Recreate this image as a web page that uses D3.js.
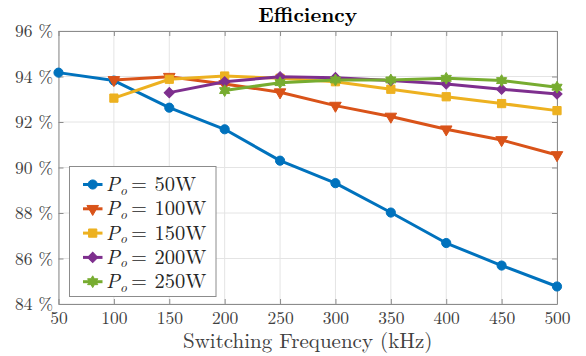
<!DOCTYPE html>
<html>
<head>
<meta charset="utf-8">
<script src="https://cdn.jsdelivr.net/npm/d3@7"></script>
</head>
<body style="margin:0;background:#fff">
<div id="chart"></div>
<script>
// switching frequency (kHz)
var freqs = [50, 100, 150, 200, 250, 300, 350, 400, 450, 500];

// efficiency (%) per output power, null = not measured
var p50  = [94.17, 93.82, 92.63, 91.68, 90.30, 89.31, 88.02, 86.68, 85.69, 84.77];
var p100 = [null, 93.85, 93.99, 93.67, 93.31, 92.72, 92.24, 91.68, 91.21, 90.55];
var p150 = [null, 93.05, 93.88, 94.02, 93.92, 93.77, 93.44, 93.11, 92.81, 92.50];
var p200 = [null, null, 93.29, 93.77, 93.99, 93.95, 93.82, 93.67, 93.44, 93.23];
var p250 = [null, null, null, 93.38, 93.73, 93.85, 93.85, 93.92, 93.82, 93.53];

var seriesNames = ["50W", "100W", "150W", "200W", "250W"];
var yTicks = [84, 86, 88, 90, 92, 94, 96];
var xTicks = [50, 100, 150, 200, 250, 300, 350, 400, 450, 500];

var W = 586, H = 356;
var margin = {top: 31, right: 29, bottom: 52, left: 58.5};
var width = W - margin.left - margin.right,
    height = H - margin.top - margin.bottom;

var FONT = '"Latin Modern Roman", "Liberation Serif", serif';
var colors = ["#0072BD", "#D95319", "#EDB120", "#7E2F8E", "#77AC30"];

// six pointed star like matlab's hexagram
var hexagram = {
  draw: function(ctx, size) {
    var r = Math.sqrt(size) * 0.62, ri = r / Math.sqrt(3);
    for (var i = 0; i < 12; i++) {
      var a = -Math.PI / 2 + i * Math.PI / 6;
      var rr = i % 2 ? ri : r;
      if (i == 0) ctx.moveTo(rr * Math.cos(a), rr * Math.sin(a));
      else ctx.lineTo(rr * Math.cos(a), rr * Math.sin(a));
    }
    ctx.closePath();
  }
};

var markers = [
  {type: d3.symbolCircle, size: 66, rot: 0},
  {type: d3.symbolTriangle, size: 58, rot: 180},
  {type: d3.symbolSquare, size: 68, rot: 0},
  {type: d3.symbolSquare, size: 52, rot: 45},
  {type: hexagram, size: 90, rot: 0}
];

var data = [p50, p100, p150, p200, p250].map(function(vals, k) {
  return {
    name: seriesNames[k],
    color: colors[k],
    marker: markers[k],
    values: freqs.map(function(f, i) { return {f: f, v: vals[i]}; })
      .filter(function(d) { return d.v != null; })
  };
});

var svg = d3.select("#chart").append("svg")
  .attr("width", W)
  .attr("height", H)
  .style("font-family", FONT);

var g = svg.append("g")
  .attr("transform", "translate(" + margin.left + "," + margin.top + ")");

var x = d3.scaleLinear().domain([50, 500]).range([0, width]);
var y = d3.scaleLinear().domain([84, 96]).range([height, 0]);

// grid
g.append("g").selectAll("line")
  .data(xTicks)
  .join("line")
  .attr("x1", d => x(d)).attr("x2", d => x(d))
  .attr("y1", 0).attr("y2", height)
  .attr("stroke", "#e4e4e4").attr("stroke-width", 1);

g.append("g").selectAll("line")
  .data(yTicks)
  .join("line")
  .attr("y1", d => y(d)).attr("y2", d => y(d))
  .attr("x1", 0).attr("x2", width)
  .attr("stroke", "#e4e4e4").attr("stroke-width", 1);

// axes, ticks pointing inwards on all four sides
var axisColor = "#8c8c8c", labelColor = "#404040";

function styleAxis(sel) {
  sel.attr("font-family", null);
  sel.select(".domain").attr("stroke", axisColor).attr("stroke-width", 1);
  sel.selectAll(".tick line").attr("stroke", axisColor);
  sel.selectAll(".tick text")
    .attr("fill", labelColor)
    .style("font-family", FONT)
    .style("font-size", "17.5px");
}

g.append("g")
  .attr("transform", "translate(0," + height + ")")
  .call(d3.axisBottom(x).tickValues(xTicks).tickSizeInner(-5).tickSizeOuter(0).tickPadding(8))
  .call(styleAxis);

g.append("g")
  .call(d3.axisTop(x).tickValues(xTicks).tickSizeInner(-5).tickSizeOuter(0).tickFormat(""))
  .call(styleAxis);

g.append("g")
  .call(d3.axisLeft(y).tickValues(yTicks).tickSizeInner(-5).tickSizeOuter(0).tickPadding(5.5)
    .tickFormat(d => d + " %"))
  .call(styleAxis);

g.append("g")
  .attr("transform", "translate(" + width + ",0)")
  .call(d3.axisRight(y).tickValues(yTicks).tickSizeInner(-5).tickSizeOuter(0).tickFormat(""))
  .call(styleAxis);

// series
var line = d3.line().x(d => x(d.f)).y(d => y(d.v));

function symbolPath(m) {
  return d3.symbol().type(m.type).size(m.size)();
}

data.forEach(function(s) {
  var sg = g.append("g");
  sg.append("path")
    .datum(s.values)
    .attr("d", line)
    .attr("fill", "none")
    .attr("stroke", s.color)
    .attr("stroke-width", 3)
    .attr("stroke-linejoin", "round");
  sg.selectAll("path.mk")
    .data(s.values)
    .join("path")
    .attr("class", "mk")
    .attr("d", symbolPath(s.marker))
    .attr("transform", d => "translate(" + x(d.f) + "," + y(d.v) + ") rotate(" + s.marker.rot + ")")
    .attr("fill", s.color)
    .attr("stroke", s.color)
    .attr("stroke-width", 1);
});

// title and x label
svg.append("text")
  .attr("x", margin.left + width / 2)
  .attr("y", 22)
  .attr("text-anchor", "middle")
  .style("font-family", FONT)
  .style("font-size", "20.5px")
  .style("font-weight", "bold")
  .attr("fill", "#000")
  .text("Efficiency");

svg.append("text")
  .attr("x", margin.left + width / 2)
  .attr("y", 348)
  .attr("text-anchor", "middle")
  .style("font-family", FONT)
  .style("font-size", "21px")
  .attr("fill", labelColor)
  .text("Switching Frequency (kHz)");

// legend
var legend = svg.append("g").attr("transform", "translate(69.5,166.5)");
legend.append("rect")
  .attr("width", 146.5)
  .attr("height", 130)
  .attr("fill", "#fff")
  .attr("stroke", "#8c8c8c")
  .attr("stroke-width", 1);

var item = legend.selectAll("g.item")
  .data(data)
  .join("g")
  .attr("class", "item")
  .attr("transform", (d, i) => "translate(0," + (18 + i * 24.3) + ")");

item.append("line")
  .attr("x1", 13.5).attr("x2", 33)
  .attr("stroke", d => d.color)
  .attr("stroke-width", 3);

item.append("path")
  .attr("d", d => symbolPath(d.marker))
  .attr("transform", d => "translate(23.2,0) rotate(" + d.marker.rot + ")")
  .attr("fill", d => d.color)
  .attr("stroke", d => d.color);

var lt = item.append("text")
  .attr("y", 6.5)
  .attr("fill", "#262626")
  .style("font-family", FONT)
  .style("font-size", "20.5px");
lt.append("tspan").attr("x", 36.5).style("font-style", "italic").text("P");
lt.append("tspan").style("font-style", "italic").style("font-size", "13.5px").attr("dy", 3.5).text("o");
lt.append("tspan").attr("x", 61.5).attr("dy", -3.5).text("=");
lt.append("tspan").attr("x", 85).text(d => d.name);
</script>
</body>
</html>
